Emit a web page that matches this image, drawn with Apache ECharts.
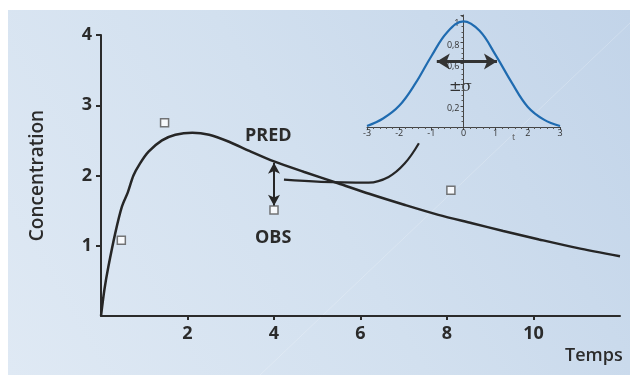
<!DOCTYPE html>
<html>
<head>
<meta charset="utf-8">
<script src="https://cdn.jsdelivr.net/npm/echarts@6/dist/echarts.min.js"></script>
<style>
  html, body { margin: 0; padding: 0; background: #fff; }
  #chart { width: 630px; height: 377px; }
</style>
</head>
<body>
<div id="chart"></div>
<script>
// main plot: predicted concentration curve vs observed points
const predCurve = [
    [0, 0], [0.08, 0.38], [0.17, 0.70], [0.33, 1.18], [0.48, 1.55], [0.62, 1.76],
    [0.75, 2.0], [0.90, 2.17], [1.10, 2.34], [1.41, 2.50], [1.72, 2.58], [2.11, 2.61],
    [2.50, 2.58], [2.96, 2.48], [3.43, 2.35], [4.0, 2.20], [4.7, 2.05], [5.48, 1.89],
    [6.2, 1.74], [7.03, 1.58], [7.8, 1.44], [8.58, 1.32], [9.3, 1.21], [10.13, 1.09],
    [11.0, 0.97], [12.0, 0.85],
];
const obsPoints = [[0.47, 1.08], [1.47, 2.75], [4.0, 1.51], [8.09, 1.79]];
// connector from the PRED/OBS gap up to the inset
const connector = [[4.23, 1.94], [5.09, 1.91], [6.19, 1.90], [6.65, 1.98], [7.02, 2.17], [7.35, 2.46]];
const residualArrow = [[4.0, 2.18], [4.0, 1.57]];
const xTicks = [2, 4, 6, 8, 10];
const yTicks = [1, 2, 3, 4];

// inset: bell curve of the error, +/- sigma
const gaussT = [-3, -2.5, -2, -1.5, -1, -0.5, 0, 0.5, 1, 1.5, 2, 2.5, 3];
const gaussV = [0.01, 0.08, 0.20, 0.41, 0.67, 0.90, 1.0, 0.91, 0.68, 0.42, 0.19, 0.07, 0.01];
const sigmaArrow = [[-0.83, 0.62], [1.04, 0.62]];
const insetXTicks = [-3, -2, -1, 0, 1, 2, 3];
const insetYTicks = [0.2, 0.6, 0.8, 1];

const ink = '#2b2b2b';
const font = '"Open Sans", sans-serif';

const chart = echarts.init(document.getElementById('chart'), null, { renderer: 'canvas' });

chart.setOption({
    animation: false,
    backgroundColor: '#ffffff',
    textStyle: { fontFamily: font },
    graphic: [
        {
            type: 'rect', z: -10, silent: true,
            shape: { x: 8, y: 10, width: 622, height: 365 },
            style: {
                fill: {
                    type: 'linear', x: 0, y: 1, x2: 1, y2: 0,
                    colorStops: [
                        { offset: 0, color: '#dfe9f4' },
                        { offset: 0.5, color: '#d2e0ef' },
                        { offset: 1, color: '#c2d4e9' },
                    ],
                },
            },
        },
        {
            type: 'line', z: -9, silent: true,
            shape: { x1: 260, y1: 375, x2: 630, y2: 23 },
            style: { stroke: 'rgba(255,255,255,0.22)', lineWidth: 1 },
        },
        { type: 'text', left: 245, top: 127, style: { text: 'PRED', font: '700 18px "Open Sans", sans-serif', fill: ink } },
        { type: 'text', left: 255, top: 229, style: { text: 'OBS', font: '700 18px "Open Sans", sans-serif', fill: ink } },
        { type: 'text', left: 565, top: 347, style: { text: 'Temps', font: '600 18px "Open Sans", sans-serif', fill: ink } },
        { type: 'text', left: 449, top: 80, style: { text: '±σ', font: '15px "DejaVu Serif", serif', fill: '#333' } },
        { type: 'text', left: 512, top: 133, style: { text: 't', font: '9px "Open Sans", sans-serif', fill: '#555' } },
    ],
    grid: [
        { left: 101, right: 10, top: 35, bottom: 61 },
        { left: 367, right: 70, top: 15, bottom: 250 },
    ],
    xAxis: [
        {
            gridIndex: 0, type: 'value', min: 0, max: 12, interval: 2,
            axisLine: { lineStyle: { color: ink, width: 2 } },
            axisTick: { customValues: xTicks, length: 4, lineStyle: { color: ink, width: 2 } },
            axisLabel: { customValues: xTicks, margin: 9, color: ink, fontSize: 18, fontWeight: 700 },
            splitLine: { show: false },
        },
        {
            gridIndex: 1, type: 'value', min: -3, max: 3, interval: 1,
            axisLine: { onZero: true, lineStyle: { color: '#444', width: 1 } },
            axisTick: { customValues: insetXTicks, length: 3, lineStyle: { color: '#444' } },
            minorTick: { show: true, splitNumber: 5, length: 2, lineStyle: { color: '#555' } },
            axisLabel: { customValues: insetXTicks, margin: 2, color: '#333', fontSize: 9 },
            splitLine: { show: false },
        },
    ],
    yAxis: [
        {
            gridIndex: 0, type: 'value', min: 0, max: 4, interval: 1,
            name: 'Concentration', nameLocation: 'middle', nameGap: 54,
            nameTextStyle: { color: ink, fontSize: 19, fontWeight: 600 },
            axisLine: { lineStyle: { color: ink, width: 2 } },
            axisTick: { customValues: yTicks, length: 5, lineStyle: { color: ink, width: 2 } },
            axisLabel: { customValues: yTicks, margin: 9, color: ink, fontSize: 18, fontWeight: 700 },
            splitLine: { show: false },
        },
        {
            // shifted right so the axis sits on t = 0
            gridIndex: 1, type: 'value', min: 0, max: 1.06, interval: 0.2, offset: -96.5,
            axisLine: { lineStyle: { color: '#444', width: 1 } },
            axisTick: { inside: false, length: 3, lineStyle: { color: '#444' } },
            minorTick: { show: true, splitNumber: 4, length: 2, lineStyle: { color: '#555' } },
            axisLabel: {
                customValues: insetYTicks, margin: 4, color: '#333', fontSize: 9,
                verticalAlign: 'top', padding: [-2, 0, 0, 0],
                formatter: (v) => String(v).replace('.', ','),
            },
            splitLine: { show: false },
        },
    ],
    series: [
        {
            type: 'line', xAxisIndex: 0, yAxisIndex: 0, data: predCurve,
            smooth: 0.3, showSymbol: false,
            lineStyle: { color: '#262626', width: 2.5 }, z: 3,
        },
        {
            type: 'line', xAxisIndex: 0, yAxisIndex: 0, data: connector,
            smooth: 0.4, showSymbol: false,
            lineStyle: { color: '#262626', width: 2.2 },
            markLine: {
                silent: true, symbol: ['arrow', 'arrow'], symbolSize: [9, 11],
                label: { show: false },
                lineStyle: { color: '#262626', width: 2, type: 'solid' },
                data: [[{ coord: residualArrow[0] }, { coord: residualArrow[1] }]],
            },
        },
        {
            type: 'scatter', xAxisIndex: 0, yAxisIndex: 0, data: obsPoints,
            symbol: 'rect', symbolSize: 8,
            itemStyle: { color: '#ffffff', borderColor: '#555', borderWidth: 1.5 }, z: 5,
        },
        {
            type: 'line', xAxisIndex: 1, yAxisIndex: 1, data: gaussT.map((t, i) => [t, gaussV[i]]),
            smooth: 0.4, showSymbol: false,
            lineStyle: { color: '#1f6bb0', width: 2.2 },
            markLine: {
                silent: true, symbol: ['arrow', 'arrow'], symbolSize: [12, 13],
                label: { show: false },
                lineStyle: { color: '#333', width: 3, type: 'solid' },
                data: [[{ coord: sigmaArrow[0] }, { coord: sigmaArrow[1] }]],
            },
        },
    ],
});
</script>
</body>
</html>
